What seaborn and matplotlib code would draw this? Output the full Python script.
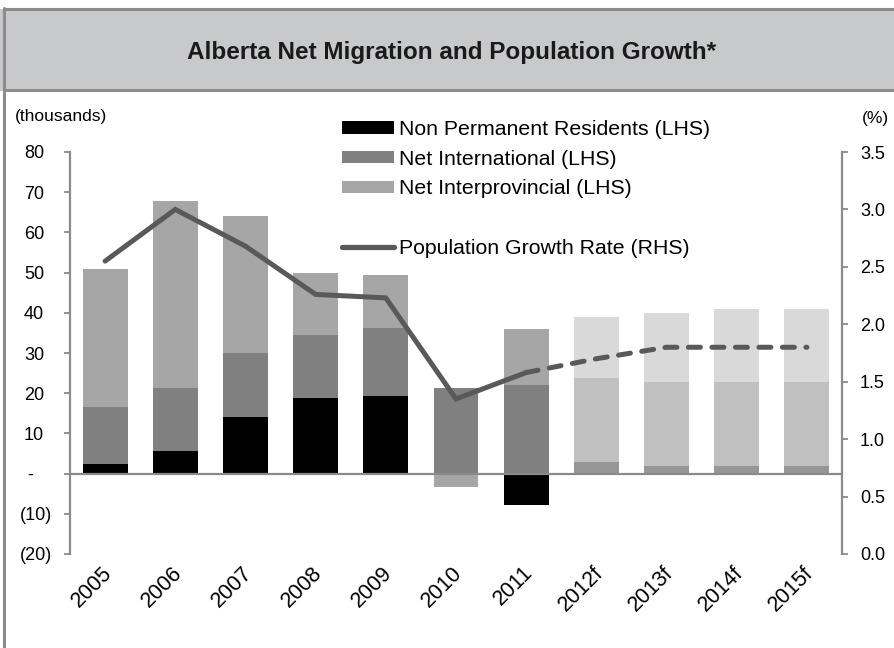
import matplotlib
matplotlib.use("Agg")
import matplotlib.pyplot as plt
from matplotlib.patches import Rectangle, Patch
from matplotlib.lines import Line2D
from matplotlib.transforms import ScaledTranslation
import numpy as np
import seaborn as sns

# ---- data -------------------------------------------------------------
years = ["2005", "2006", "2007", "2008", "2009", "2010", "2011",
         "2012f", "2013f", "2014f", "2015f"]
non_permanent = [2.5, 5.6, 14.2, 18.7, 19.2, 0.0, -7.9, 3.0, 2.0, 2.0, 2.0]
net_international = [14.0, 15.6, 15.8, 15.8, 17.0, 21.4, 22.0, 20.8, 20.8, 20.8, 20.8]
net_interprovincial = [34.5, 46.5, 34.2, 15.3, 13.3, -3.3, 14.0, 15.2, 17.2, 18.2, 18.2]
growth_rate = [2.55, 3.0, 2.68, 2.26, 2.23, 1.35, 1.58, 1.70, 1.80, 1.80, 1.80]
n_actual = 7  # 2005-2011 are actuals, the rest are forecasts

series_labels = ["Non Permanent Residents (LHS)", "Net International (LHS)",
                 "Net Interprovincial (LHS)"]
line_label = "Population Growth Rate (RHS)"
title = "Alberta Net Migration and Population Growth*"

left_ticks = [-20, -10, 0, 10, 20, 30, 40, 50, 60, 70, 80]
left_tick_labels = ["(20)", "(10)", "-", "10", "20", "30", "40", "50", "60", "70", "80"]
right_ticks = [0.0, 0.5, 1.0, 1.5, 2.0, 2.5, 3.0, 3.5]
right_tick_labels = ["0.0", "0.5", "1.0", "1.5", "2.0", "2.5", "3.0", "3.5"]

actual_colors = ["#000000", "#808080", "#a6a6a6"]
forecast_colors = ["#969696", "#c0c0c0", "#d9d9d9"]
line_color = "#595959"
axis_color = "#8a8a8a"

# ---- styling ----------------------------------------------------------
sns.set_theme(style="white")
plt.rcParams["font.family"] = ["Liberation Sans", "DejaVu Sans"]
plt.rcParams["text.color"] = "#000000"

W, H = 894, 648
fig = plt.figure(figsize=(W / 100, H / 100), dpi=100)
fig.patch.set_facecolor("white")

# title band and frame
fig.patches.append(Rectangle((0, 1 - 91 / H), 1, 82 / H, transform=fig.transFigure,
                             facecolor="#c8c9cb", edgecolor="none", zorder=0))
fig.add_artist(Line2D([4 / W, 1], [1 - 8.7 / H] * 2, color="#8c8c8c", lw=2.2,
                      transform=fig.transFigure))
fig.add_artist(Line2D([4 / W, 1], [1 - 90.3 / H] * 2, color="#8c8c8c", lw=2.2,
                      transform=fig.transFigure))
fig.add_artist(Line2D([4 / W, 4 / W], [0, 1 - 7.6 / H], color="#8c8c8c", lw=2.2,
                      transform=fig.transFigure))
fig.text(452 / W, 1 - 53 / H, title, ha="center", va="center", fontsize=17.5,
         fontweight="bold", color="#1a1a1a")

ax = fig.add_axes([70 / W, 1 - 554 / H, 772 / W, 402 / H])
ax.patch.set_alpha(0)

# ---- stacked bars (positives stack upward, negatives downward) -------
n = len(years)
pos_base = np.zeros(n)
neg_base = np.zeros(n)
for vals, ca, cf in zip([non_permanent, net_international, net_interprovincial],
                        actual_colors, forecast_colors):
    vals = np.asarray(vals, dtype=float)
    bottoms = np.where(vals >= 0, pos_base, neg_base)
    sns.barplot(x=years, y=vals, bottom=bottoms, color=ca, saturation=1,
                width=0.64, errorbar=None, linewidth=0, ax=ax, zorder=2)
    for i, bar in enumerate(ax.containers[-1]):
        bar.set_facecolor(ca if i < n_actual else cf)
        bar.set_edgecolor("none")
    pos_base += np.where(vals > 0, vals, 0)
    neg_base += np.where(vals < 0, vals, 0)

ax.axhline(0, color=axis_color, lw=1.6, zorder=3)
ax.set_xlim(-0.5, n - 0.5)
ax.set_ylim(-20, 80)
ax.set_yticks(left_ticks)
ax.set_yticklabels(left_tick_labels)
ax.set_xticks(range(n))
ax.set_xticklabels(years, rotation=45, ha="right", rotation_mode="anchor")
ax.set_xlabel("")
ax.set_ylabel("")
for side in ["top", "right", "bottom"]:
    ax.spines[side].set_visible(False)
ax.spines["left"].set_color(axis_color)
ax.spines["left"].set_linewidth(1.6)
ax.tick_params(axis="y", left=True, direction="out", length=4.3, width=1.3,
               color=axis_color, pad=8.6, labelsize=13, labelcolor="black")
ax.tick_params(axis="x", bottom=False, length=0, pad=6, labelsize=15.5,
               labelcolor="black")

# ---- growth rate on the right axis -----------------------------------
ax2 = ax.twinx()
idx = np.arange(n)
growth = np.asarray(growth_rate)
sns.lineplot(x=idx[:n_actual], y=growth[:n_actual], ax=ax2, color=line_color,
             lw=3.6, solid_capstyle="round", solid_joinstyle="miter", zorder=4)
sns.lineplot(x=idx[n_actual - 1:], y=growth[n_actual - 1:], ax=ax2,
             color=line_color, lw=3.6, linestyle=(0, (2.4, 2.3)),
             dash_capstyle="round", zorder=4)
ax2.set_xlim(-0.5, n - 0.5)
ax2.set_ylim(0, 3.5)
ax2.set_yticks(right_ticks)
ax2.set_yticklabels(right_tick_labels)
ax2.set_ylabel("")
for side in ["top", "left", "bottom"]:
    ax2.spines[side].set_visible(False)
ax2.spines["right"].set_color(axis_color)
ax2.spines["right"].set_linewidth(1.6)
ax2.tick_params(axis="y", right=True, direction="out", length=4.3, width=1.3,
                color=axis_color, pad=8.6, labelsize=13, labelcolor="black")

# accounting-style alignment of the left tick labels
for lab in ax.get_yticklabels():
    txt = lab.get_text()
    if txt == "-":
        shift = -19
    elif txt.startswith("("):
        shift = 0
    else:
        shift = -8
    lab.set_transform(lab.get_transform() +
                      ScaledTranslation(shift / 100, 0, fig.dpi_scale_trans))

# nudge the rotated year labels so they end under the bar centres
for lab in ax.get_xticklabels():
    lab.set_transform(lab.get_transform() +
                      ScaledTranslation(-4 / 100, 0, fig.dpi_scale_trans))

fig.text(15 / W, 1 - 117 / H, "(thousands)", ha="left", va="center", fontsize=12.5)
fig.text(862 / W, 1 - 118 / H, "(%)", ha="left", va="center", fontsize=12.5)

# ---- legend -------------------------------------------------------------
handles = [Patch(facecolor=c, edgecolor="none") for c in actual_colors]
handles.append(Patch(facecolor="none", edgecolor="none"))
handles.append(Line2D([], [], color=line_color, lw=3.8, solid_capstyle="round"))
labels = series_labels + ["", line_label]
ax2.legend(handles, labels, loc="upper left", bbox_to_anchor=(342 / W, 1 - 120 / H),
           bbox_transform=fig.transFigure, frameon=False, fontsize=15.3,
           handlelength=2.45, handleheight=0.5, handletextpad=0.25,
           labelspacing=0.5, borderpad=0, borderaxespad=0)

fig.savefig("out.png", dpi=100, facecolor="white")
